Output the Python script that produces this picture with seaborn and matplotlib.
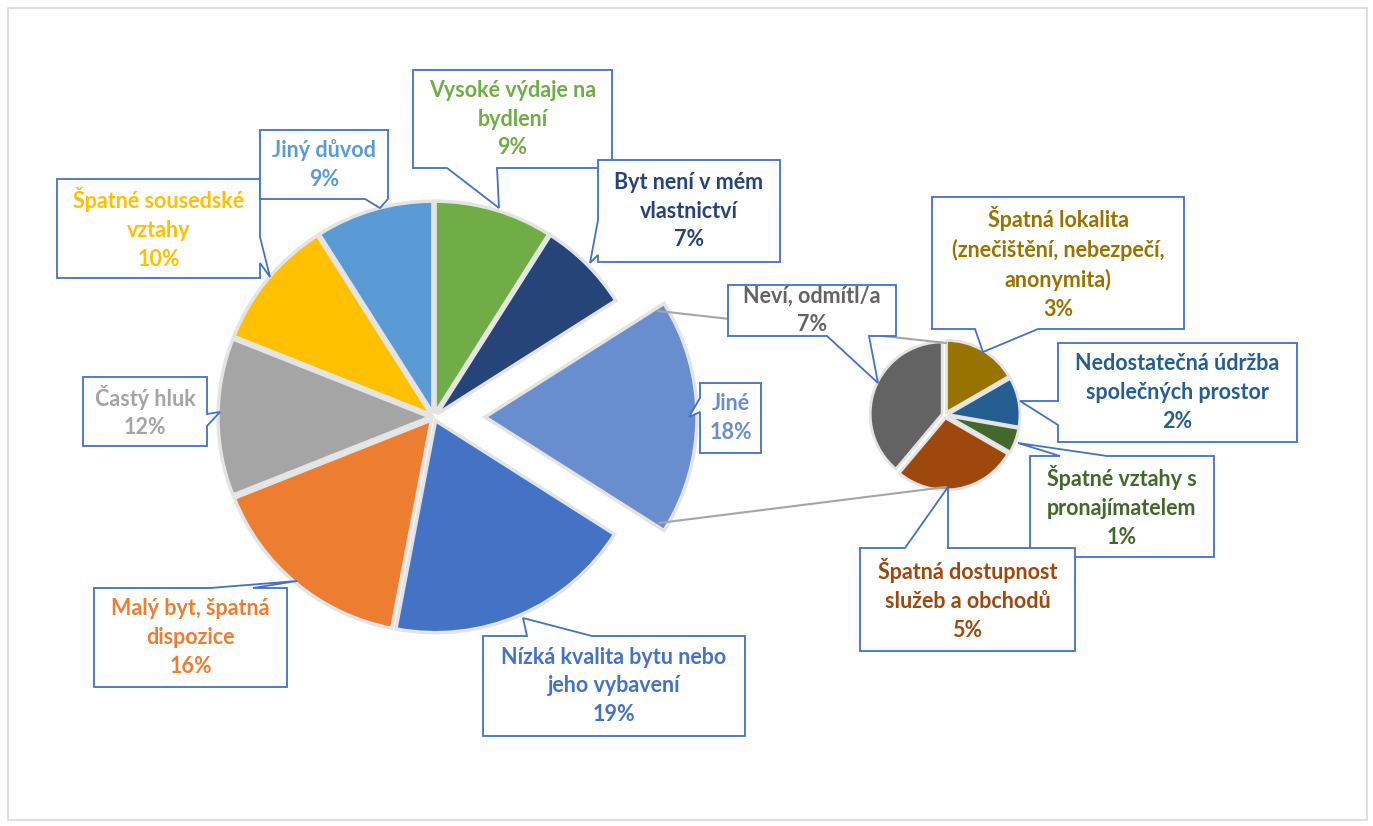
import matplotlib
matplotlib.use("Agg")
import matplotlib.pyplot as plt
import seaborn as sns
from matplotlib.patches import Polygon, Rectangle

sns.set_theme(style="white")
plt.rcParams["font.family"] = ["Lato", "DejaVu Sans"]

W, H = 1373, 826

# main pie (clockwise from 12 o'clock)
main_names = ["Vysoké výdaje na\nbydlení", "Byt není v mém\nvlastnictví", "Jiné",
              "Nízká kvalita bytu nebo\njeho vybavení", "Malý byt, špatná\ndispozice",
              "Častý hluk", "Špatné sousedské\nvztahy", "Jiný důvod"]
main_values = [9, 7, 18, 19, 16, 12, 10, 9]
main_colors = ["#70AD47", "#264478", "#698ED0", "#4472C4", "#ED7D31",
               "#A5A5A5", "#FFC000", "#5B9BD5"]

# breakdown of "Jiné"
sub_names = ["Špatná lokalita\n(znečištění, nebezpečí,\nanonymita)",
             "Nedostatečná údržba\nspolečných prostor",
             "Špatné vztahy s\npronajímatelem",
             "Špatná dostupnost\nslužeb a obchodů",
             "Neví, odmítl/a"]
sub_values = [3, 2, 1, 5, 7]
sub_colors = ["#997300", "#255E91", "#43682B", "#9E480E", "#636363"]

# callout boxes in pixel coords: (x0, y0, x1, y1), side, base, tip
main_boxes = [
    ((413, 70, 612, 168), "bottom", (447, 497), (499, 208)),
    ((598, 160, 780, 262), "left", (220, 255), (590, 263)),
    ((700, 383, 761, 453), "left", (398, 412), (689, 417)),
    ((483, 636, 745, 736), "top", (527, 592), (523, 618)),
    ((94, 588, 287, 687), "top", (210, 253), (297, 581)),
    ((83, 377, 207, 446), "right", (414, 426), (220, 412)),
    ((57, 179, 260, 278), "right", (237, 263), (270, 277)),
    ((260, 130, 388, 199), "bottom", (365, 388), (380, 208)),
]
sub_boxes = [
    ((932, 197, 1184, 329), "bottom", (975, 1038), (983, 352)),
    ((1058, 343, 1297, 442), "left", (401, 425), (1020, 401)),
    ((1030, 456, 1214, 557), "top", (1060, 1107), (1018, 443)),
    ((860, 548, 1075, 651), "top", (905, 948), (948, 487)),
    ((728, 285, 896, 336), "bottom", (827, 869), (878, 383)),
]


def Y(y):
    return H - y


def callout(ax, box, side, base, tip, text, color):
    x0, y0, x1, y1 = box
    a, b = base
    if side == "top":
        pts = [(x0, y0), (a, y0), tip, (b, y0), (x1, y0), (x1, y1), (x0, y1)]
    elif side == "right":
        pts = [(x0, y0), (x1, y0), (x1, a), tip, (x1, b), (x1, y1), (x0, y1)]
    elif side == "bottom":
        pts = [(x0, y0), (x1, y0), (x1, y1), (b, y1), tip, (a, y1), (x0, y1)]
    else:
        pts = [(x0, y0), (x1, y0), (x1, y1), (x0, y1), (x0, b), tip, (x0, a)]
    pts = [(px, Y(py)) for px, py in pts]
    ax.add_patch(Polygon(pts, closed=True, facecolor="white", edgecolor="#4472C4",
                         linewidth=1.3, zorder=5))
    ax.text((x0 + x1) / 2, Y((y0 + y1) / 2), text, ha="center", va="center",
            multialignment="center", color=color, fontsize=15.5, fontweight="bold",
            linespacing=1.45, zorder=6)


fig = plt.figure(figsize=(W / 100, H / 100), dpi=100)
ax = fig.add_axes([0, 0, 1, 1])

main_c, main_r = (434, Y(417)), 212
sub_c, sub_r = (945, Y(415)), 72

# explode offsets are in data units (pixels here)
explode = [51 if n == "Jiné" else 4 for n in main_names]
ax.pie(main_values, colors=main_colors, startangle=90, counterclock=False,
       center=main_c, radius=main_r, explode=explode,
       wedgeprops=dict(edgecolor="#E4E4E4", linewidth=2.5))
ax.pie(sub_values, colors=sub_colors, startangle=90, counterclock=False,
       center=sub_c, radius=sub_r, explode=[3] * len(sub_values),
       wedgeprops=dict(edgecolor="#E4E4E4", linewidth=2))

# connector lines between "Jiné" and the secondary pie
ax.plot([658, 946], [Y(311), Y(343)], color="#A6A6A6", lw=1.5, zorder=1)
ax.plot([659, 946], [Y(523), Y(487)], color="#A6A6A6", lw=1.5, zorder=1)

for name, v, c, (box, side, base, tip) in zip(main_names, main_values, main_colors, main_boxes):
    callout(ax, box, side, base, tip, f"{name}\n{v}%", c)
for name, v, c, (box, side, base, tip) in zip(sub_names, sub_values, sub_colors, sub_boxes):
    callout(ax, box, side, base, tip, f"{name}\n{v}%", c)

ax.add_patch(Rectangle((8, Y(820)), 1359, 812, fill=False, edgecolor="#D9D9D9",
                       linewidth=1.2, zorder=0))

ax.set_xlim(0, W)
ax.set_ylim(0, H)
ax.set_aspect("equal")
ax.axis("off")

fig.savefig("out.png", dpi=100)
